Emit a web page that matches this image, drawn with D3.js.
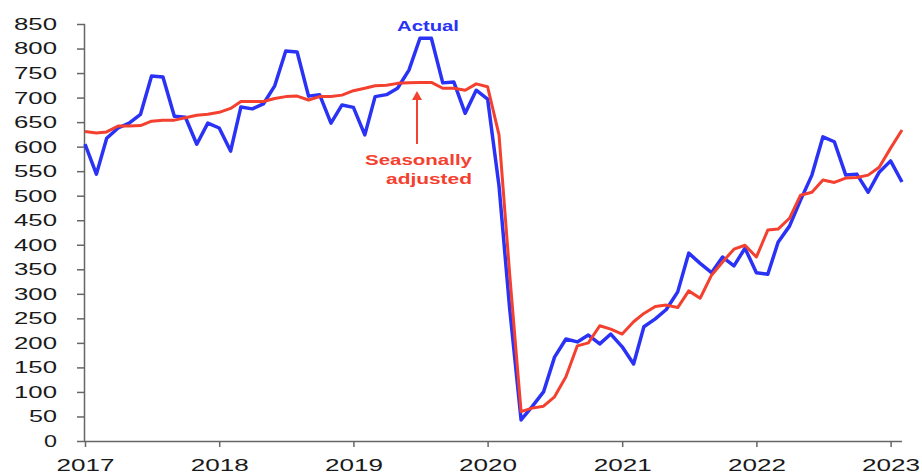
<!DOCTYPE html>
<html>
<head>
<meta charset="utf-8">
<script src="https://cdn.jsdelivr.net/npm/d3@7"></script>
<style>
  body { margin: 0; background: #fff; }
  text { font-family: "Liberation Sans", Arial, sans-serif; }
</style>
</head>
<body>
<div id="d3_container"></div>
<script>

// monthly, Jan 2017 .. Feb 2023
const startMonth = new Date(2017, 0, 1);

const actual = [605,544,617,638,648,666,744,742,662,660,605,648,
                638,591,681,677,687,724,795,793,703,706,648,685,
                680,624,702,706,719,756,821,821,730,732,668,715,
                697,520,270,43,70,100,171,208,202,216,198,218,
                192,157,233,249,268,304,383,362,343,375,357,393,
                343,340,405,438,491,542,620,610,542,544,507,548,
                571,528];

const seasAdj = [631,628,630,642,642,643,652,654,654,659,664,666,
                 670,678,692,692,692,698,702,703,695,702,702,705,
                 714,719,724,725,729,730,731,731,719,719,715,728,
                 722,624,340,60,67,71,90,131,194,200,235,228,
                 218,243,260,274,277,272,306,291,338,365,391,399,
                 375,430,432,454,501,507,532,527,536,537,542,558,
                 597,634];

const yTicks = d3.range(0, 851, 50);
const yearTicks = [2017, 2018, 2019, 2020, 2021, 2022, 2023];

const months = actual.map((d, i) => d3.timeMonth.offset(startMonth, i));

const margin = {top: 24, bottom: 34, right: 20, left: 85};
const width = 922, height = 475;

const svg = d3.select("#d3_container").append("svg")
    .attr("width", width)
    .attr("height", height);

const x_scale = d3.scaleTime()
    .domain([months[0], months[months.length - 1]])
    .range([margin.left, width - margin.right]);

const y_scale = d3.scaleLinear()
    .domain([0, 850])
    .range([height - margin.bottom, margin.top]);

const x_axis = d3.axisBottom(x_scale)
    .tickValues(yearTicks.map(y => new Date(y, 0, 1)))
    .tickFormat(d3.timeFormat("%Y"))
    .tickSize(6)
    .tickPadding(12);

const y_axis = d3.axisLeft(y_scale)
    .tickValues(yTicks)
    .tickSize(8)
    .tickPadding(20);

const gx = svg.append("g")
    .attr("transform", `translate(0,${height - margin.bottom})`)
    .call(x_axis);

const gy = svg.append("g")
    .attr("transform", `translate(${margin.left},0)`)
    .call(y_axis);

// wide-looking font: stretch the digits
[gx, gy].forEach(g => {
    g.select(".domain").attr("stroke", "#666").attr("stroke-width", 1.5);
    g.selectAll(".tick line").attr("stroke", "#666").attr("stroke-width", 1.5);
    g.selectAll(".tick text")
        .attr("fill", "#1a1a1a")
        .style("font-size", "17px")
        .attr("textLength", function() { return this.textContent.length * 15 - 2; })
        .attr("lengthAdjust", "spacingAndGlyphs");
});
gx.select(".domain").attr("d", `M${margin.left},0.5H${width - margin.right}`);
gy.select(".domain").attr("d", `M-0.5,${height - margin.bottom}V${margin.top}`);

const line = (vals) => d3.line()
    .x((d, i) => x_scale(months[i]))
    .y(d => y_scale(d))
    .curve(d3.curveLinear)(vals);

svg.append("path")
    .attr("d", line(actual))
    .attr("fill", "none")
    .attr("stroke", "#2a32f5")
    .attr("stroke-width", 3.5)
    .attr("stroke-linejoin", "round");

svg.append("path")
    .attr("d", line(seasAdj))
    .attr("fill", "none")
    .attr("stroke", "#f4402f")
    .attr("stroke-width", 3)
    .attr("stroke-linejoin", "round");

// labels
svg.append("text")
    .attr("x", 428).attr("y", 31)
    .attr("text-anchor", "middle")
    .attr("fill", "#2a32f5")
    .style("font-size", "15px").style("font-weight", "bold")
    .attr("textLength", 62).attr("lengthAdjust", "spacingAndGlyphs")
    .text("Actual");

svg.append("text")
    .attr("x", 472).attr("y", 165)
    .attr("text-anchor", "end")
    .attr("fill", "#f4402f")
    .style("font-size", "15px").style("font-weight", "bold")
    .attr("textLength", 107).attr("lengthAdjust", "spacingAndGlyphs")
    .text("Seasonally");

svg.append("text")
    .attr("x", 472).attr("y", 184)
    .attr("text-anchor", "end")
    .attr("fill", "#f4402f")
    .style("font-size", "15px").style("font-weight", "bold")
    .attr("textLength", 86).attr("lengthAdjust", "spacingAndGlyphs")
    .text("adjusted");

// arrow
svg.append("line")
    .attr("x1", 417).attr("y1", 144)
    .attr("x2", 417).attr("y2", 98)
    .attr("stroke", "#f4402f")
    .attr("stroke-width", 2);

svg.append("path")
    .attr("d", "M412,100L417,91L422,100Z")
    .attr("fill", "#f4402f");

</script>
</body>
</html>
